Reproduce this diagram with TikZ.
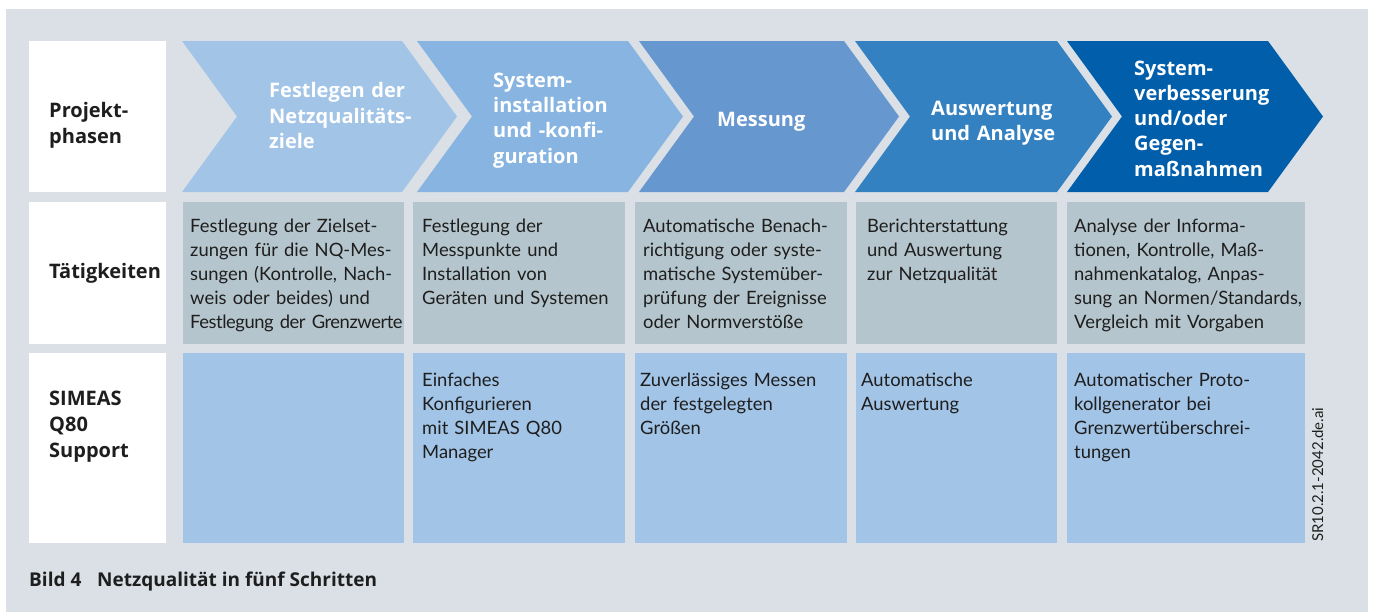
\documentclass[tikz,border=0pt]{standalone}
\usepackage{fontspec}
\setmainfont{Lato}
\newfontfamily\boldfam{Open Sans}
\definecolor{bgc}{HTML}{DAE0E5}
\definecolor{actc}{HTML}{B5C5CD}
\definecolor{supc}{HTML}{A2C4E7}
\definecolor{chA}{HTML}{A2C4E7}
\definecolor{chB}{HTML}{87B4E0}
\definecolor{chC}{HTML}{6797CF}
\definecolor{chD}{HTML}{3481C2}
\definecolor{chE}{HTML}{005EAB}
\definecolor{txt}{HTML}{1E1E1E}
\tikzset{
  chevtext/.style={text=white, font=\boldfam\bfseries\fontsize{20}{25.3}\selectfont, anchor=base west, inner sep=0pt, text width=200pt, align=left},
  bodytext/.style={text=txt, font=\fontsize{18.4}{24}\selectfont, anchor=base west, inner sep=0pt, text width=260pt, align=left},
  hdrtext/.style={text=txt, font=\boldfam\bfseries\fontsize{20}{26}\selectfont, anchor=base west, inner sep=0pt, text width=140pt, align=left},
  captext/.style={text=txt, font=\boldfam\bfseries\fontsize{19}{20}\selectfont, anchor=base west, inner sep=0pt},
}
\begin{document}
\begin{tikzpicture}[x=1pt,y=-1pt]
\useasboundingbox (0,0) rectangle (1373,613);
\fill[white] (0,0) rectangle (1373,613);
\fill[bgc] (6,9) rectangle (1368,612);
% header boxes
\fill[white] (29,41) rectangle (166,192);
\fill[white] (29,202) rectangle (166,344);
\fill[white] (29,353) rectangle (166,543);
% chevrons
\def\chev#1#2#3{\fill[#3] (#1,41) -- (#2,41) -- (#2+55,116.5) -- (#2,192) -- (#1,192) -- (#1+55,116.5) -- cycle;}
\chev{182}{402}{chA}
\chev{417}{628}{chB}
\chev{639}{844}{chC}
\chev{855}{1057}{chD}
\chev{1067}{1268}{chE}
% activity row
\fill[actc] (183,202) rectangle (404,344);
\fill[actc] (413,202) rectangle (625,344);
\fill[actc] (635,202) rectangle (847,344);
\fill[actc] (856,202) rectangle (1057,344);
\fill[actc] (1067,202) rectangle (1305,344);
% support row
\fill[supc] (183,353) rectangle (404,543);
\fill[supc] (413,353) rectangle (625,543);
\fill[supc] (635,353) rectangle (847,543);
\fill[supc] (856,353) rectangle (1057,543);
\fill[supc] (1067,353) rectangle (1305,543);
% row headers
\node[hdrtext] (h1) at (49,117) {Projekt-\\phasen};
\node[hdrtext] (h2) at (49,278) {Tätigkeiten};
\node[hdrtext] (h3) at (49,405) {SIMEAS\\Q80\\Support};
% chevron texts
\node[chevtext] (c1) at (269,97.7) {Festlegen der\\Netzqualitäts-\\ziele};
\node[chevtext] (c2) at (493,87.3) {System-\\installation\\und -konfi-\\guration};
\node[chevtext] (c3) at (717,126.7) {Messung};
\node[chevtext] (c4) at (931,115) {Auswertung\\und Analyse};
\node[chevtext] (c5) at (1134,75) {System-\\verbesserung\\und/oder\\Gegen-\\maßnahmen};
% activities
\node[bodytext] (a1) at (190,232) {Festlegung der Zielset-\\zungen für die NQ-Mes-\\sungen (Kontrolle, Nach-\\weis oder beides) und\\{\addfontfeature{LetterSpace=-2.5}Festlegung der Grenzwerte}};
\node[bodytext] (a2) at (422,232) {Festlegung der\\Messpunkte und\\Installation von\\Geräten und Systemen};
\node[bodytext] (a3) at (643,232) {Automatische Benach-\\richtigung oder syste-\\matische Systemüber-\\prüfung der Ereignisse\\oder Normverstöße};
\node[bodytext] (a4) at (867,232) {Berichterstattung\\und Auswertung\\zur Netzqualität};
\node[bodytext] (a5) at (1074,232) {Analyse der Informa-\\tionen, Kontrolle, Maß-\\nahmenkatalog, Anpas-\\sung an Normen/Standards,\\Vergleich mit Vorgaben};
% support
\node[bodytext] (s2) at (422,386) {Einfaches\\Konfigurieren\\mit SIMEAS Q80\\Manager};
\node[bodytext] (s3) at (640,386) {Zuverlässiges Messen\\der festgelegten\\Größen};
\node[bodytext] (s4) at (861,386) {Automatische\\Auswertung};
\node[bodytext] (s5) at (1074,386) {Automatischer Proto-\\kollgenerator bei\\Grenzwertüberschrei-\\tungen};
% caption
\node[captext] (cap1) at (29,586) {Bild 4};
\node[captext] (cap2) at (97,586) {Netzqualität in fünf Schritten};
% file id
\node[text=txt, font=\fontsize{15}{17}\selectfont, anchor=base west, inner sep=0pt, rotate=90] (fid) at (1323,542) {SR10.2.1-2042.de.ai};
\end{tikzpicture}
\end{document}
